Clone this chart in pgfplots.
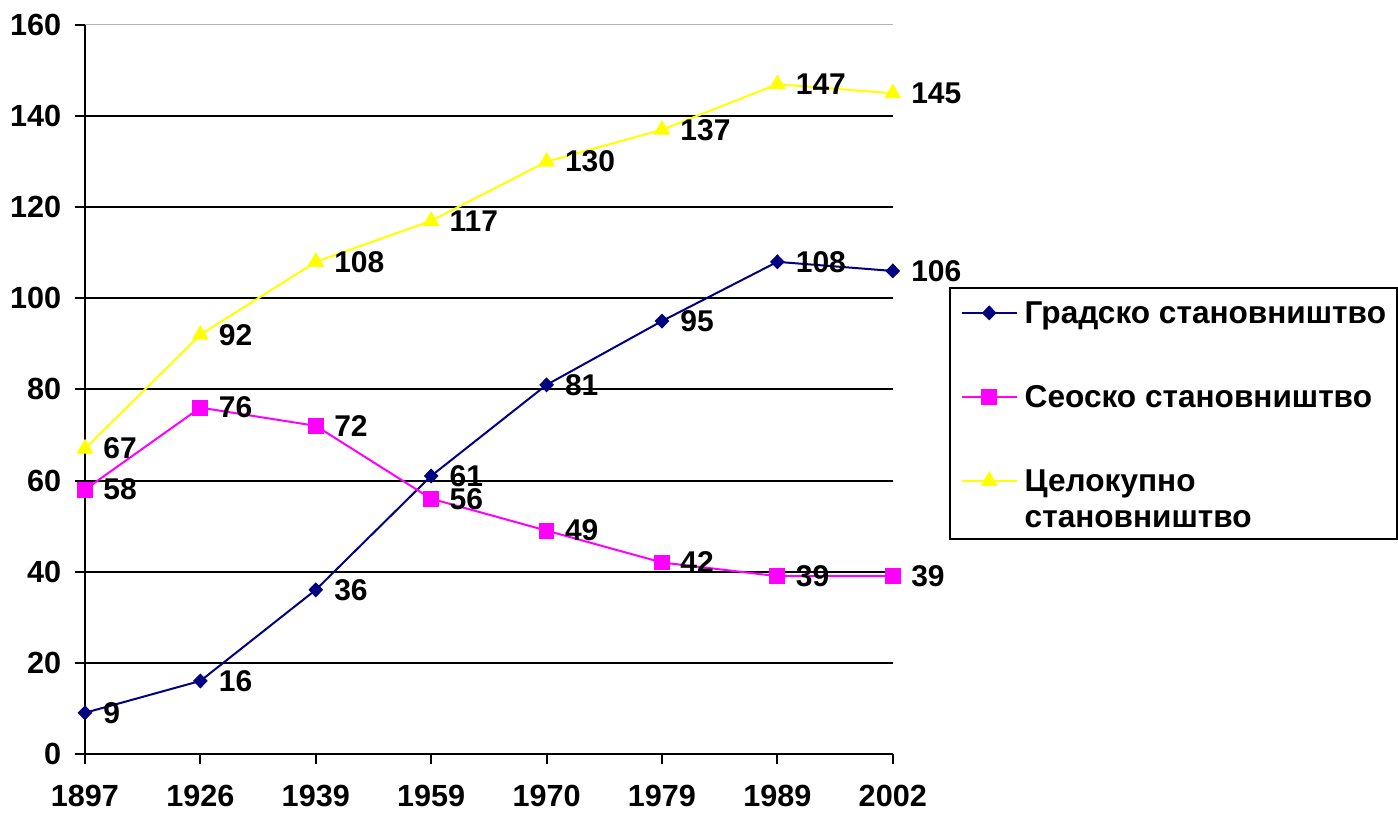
\documentclass[border=0pt]{standalone}
\usepackage{pgfplots}
\pgfplotsset{compat=1.18}
\usepackage{fontspec}
\setmainfont{Liberation Sans}
\definecolor{urban}{RGB}{0,0,128}
\definecolor{rural}{RGB}{255,0,255}
\definecolor{total}{RGB}{255,255,0}
\begin{document}
\begin{tikzpicture}
\fontsize{14}{18}\selectfont\bfseries
\path (0,0) rectangle (699pt,406.5pt);
\begin{axis}[
  at={(42.5pt,29.5pt)}, anchor=south west,
  scale only axis, width=404pt, height=364.5pt,
  xmin=0, xmax=7, ymin=0, ymax=160,
  clip=false,
  axis x line=bottom, axis y line=left,
  axis line style={-, line width=1pt, black},
  xtick={0,...,7},
  xticklabels={1897,1926,1939,1959,1970,1979,1989,2002},
  ytick={0,20,...,140},
  extra y ticks={160},
  extra y tick style={grid style={gray!60, line width=0.5pt}},
  ymajorgrids, grid style={black, line width=1pt},
  tick align=outside, major tick length=5pt,
  tick style={black, line width=1pt},
  /pgf/number format/assume math mode=true,
  ticklabel style={font=\fontsize{15.3}{18}\selectfont\bfseries},
  xticklabel style={yshift=-6pt},
  yticklabel style={xshift=-2pt},
  every axis plot/.append style={line width=1pt},
  nodes near coords,
  nodes near coords style={anchor=west, xshift=9pt, inner sep=0pt, black, font=\fontsize{15}{18}\selectfont\bfseries},
  legend style={at={(1.0693,0.6406)}, anchor=north west, draw=black, line width=1pt,
    inner xsep=5.5pt, inner ysep=0pt, row sep=0pt, column sep=3.5pt,
    font=\fontsize{15.8}{18}\selectfont\bfseries,
    cells={anchor=base west}, nodes={inner sep=0pt, text depth=}},
  legend image code/.code={\draw[mark repeat=2,mark phase=2,line width=1pt,#1] plot coordinates {(0pt,5.5pt)(13.75pt,5.5pt)(27.5pt,5.5pt)};},
]
\addplot[urban, mark=diamond*, mark size=3.4pt, mark options={fill=urban, draw=urban, line width=0.5pt, xscale=1.3}]
  coordinates {(0,9)(1,16)(2,36)(3,61)(4,81)(5,95)(6,108)(7,106)};
\addlegendentry{\rule[-24pt]{0pt}{42pt}Градско становништво}
\addplot[rural, mark=square*, mark size=3.7pt, mark options={fill=rural, draw=rural, line width=0.5pt}]
  coordinates {(0,58)(1,76)(2,72)(3,56)(4,49)(5,42)(6,39)(7,39)};
\addlegendentry{\rule[-24pt]{0pt}{42pt}Сеоско становништво}
\addplot[total, mark=triangle*, mark size=4.4pt, mark options={fill=total, draw=total, line width=0.5pt}]
  coordinates {(0,67)(1,92)(2,108)(3,117)(4,130)(5,137)(6,147)(7,145)};
\addlegendentry{\rule{0pt}{18pt}\begin{tabular}[t]{@{}l@{}}Целокупно\\становништво\end{tabular}}
\end{axis}
\end{tikzpicture}
\end{document}
